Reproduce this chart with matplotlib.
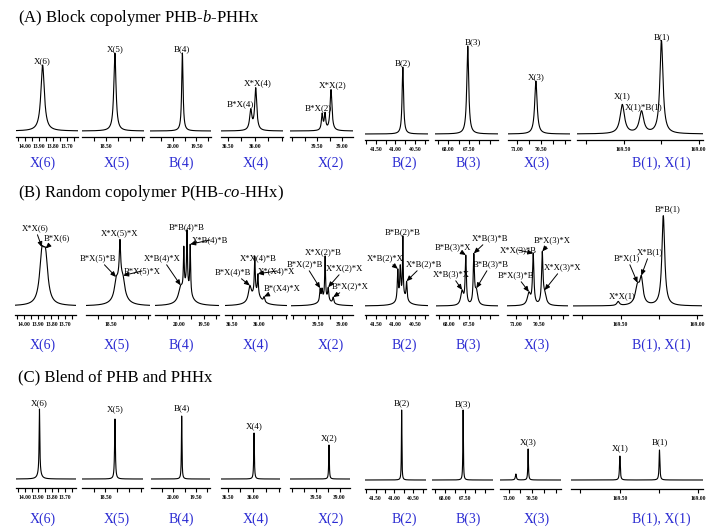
import numpy as np
import matplotlib
matplotlib.use("Agg")
import matplotlib.pyplot as plt

plt.rcParams['font.family'] = 'Liberation Serif'
plt.rcParams['mathtext.fontset'] = 'custom'
plt.rcParams['mathtext.rm'] = 'Liberation Serif'
plt.rcParams['mathtext.it'] = 'Liberation Serif:italic'

W, H = 722, 531

# ------------------------------------------------------------
# data: panels (ppm windows, ticks)
# ------------------------------------------------------------
captions = ['X(6)', 'X(5)', 'B(4)', 'X(4)', 'X(2)', 'B(2)', 'B(3)', 'X(3)', 'B(1), X(1)']
ppm_left = [14.065, 18.70, 20.49, 36.63, 40.04, 41.78, 68.32, 71.18, 169.81]
ppm_right = [13.62, 18.18, 19.19, 35.48, 38.78, 40.165, 66.80, 69.90, 168.97]
ticks = [
    [14.05, 14.00, 13.95, 13.90, 13.85, 13.80, 13.75, 13.70, 13.65],
    [18.60, 18.50, 18.40, 18.30, 18.20],
    [20.25, 20.00, 19.75, 19.50, 19.25],
    [36.50, 36.25, 36.00, 35.75, 35.50],
    [40.00, 39.75, 39.50, 39.25, 39.00],
    [41.75, 41.50, 41.25, 41.00, 40.75, 40.50, 40.25],
    [68.25, 68.00, 67.75, 67.50, 67.25, 67.00],
    [71.00, 70.75, 70.50, 70.25, 70.00],
    [169.75, 169.50, 169.25, 169.00],
]
labelled_ticks = [
    [14.00, 13.90, 13.80, 13.70], [18.50], [20.00, 19.50], [36.50, 36.00],
    [39.50, 39.00], [41.50, 41.00, 40.50], [68.00, 67.50], [71.00, 70.50],
    [169.50, 169.00],
]

# (A) block copolymer PHB-b-PHHx: peak centres (ppm), heights, widths
a_centers = [[13.874], [18.424], [19.80], [36.078, 35.986], [39.397, 39.34, 39.22],
             [40.81], [67.53], [70.604], [169.508, 169.38, 169.247]]
a_heights = [[66], [78], [78], [20, 42], [16, 16, 41], [67], [88], [53], [29, 22, 93]]
a_widths = [[0.03], [0.022], [0.035], [0.05, 0.045], [0.035, 0.035, 0.045],
            [0.045], [0.055], [0.06], [0.035, 0.035, 0.025]]
a_labels = [['X(6)'], ['X(5)'], ['B(4)'], ['B*X(4)', 'X*X(4)'], [None, 'B*X(2)', 'X*X(2)'],
            ['B(2)'], ['B(3)'], ['X(3)'], ['X(1)', 'X(1)*B(1)', 'B(1)']]

# (B) random copolymer P(HB-co-HHx)
b_centers = [[13.869, 13.842], [18.456, 18.424, 18.424, 18.398],
             [19.97, 19.905, 19.84, 19.775, 19.85], [36.17, 36.078, 36.02, 35.905, 36.06],
             [39.448, 39.41, 39.347, 39.284, 39.183, 39.35],
             [40.94, 40.876, 40.81, 40.714, 40.82], [67.68, 67.59, 67.393, 67.33],
             [70.72, 70.63, 70.44, 70.39], [169.516, 169.39, 169.365, 169.222]]
b_heights = [[44, 42], [12, 28, 34, 10], [12, 40, 55, 48, 18], [14, 36, 20, 5, 12],
             [12, 10, 42, 12, 6, 7], [30, 30, 58, 18, 10], [14, 48, 48, 14],
             [12, 50, 50, 10], [4, 18, 24, 90]]
b_widths = [[0.04, 0.04], [0.03, 0.07, 0.012, 0.03], [0.10, 0.02, 0.02, 0.02, 0.2],
            [0.06, 0.02, 0.02, 0.03, 0.22], [0.025, 0.025, 0.02, 0.025, 0.03, 0.25],
            [0.03, 0.03, 0.02, 0.03, 0.25], [0.08, 0.035, 0.035, 0.08],
            [0.08, 0.035, 0.035, 0.08], [0.02, 0.035, 0.025, 0.022]]
# (panel, peak index, label, arrow?)
b_notes = [
    (0, 0, 'X*X(6)', True), (0, 1, 'B*X(6)', True),
    (1, 1, 'X*X(5)*X', False), (1, 0, 'B*X(5)*B', True), (1, 3, 'B*X(5)*X', True),
    (2, 2, 'B*B(4)*B', False), (2, 3, 'X*B(4)*B', True), (2, 0, 'X*B(4)*X', True),
    (3, 1, 'X*X(4)*B', False), (3, 0, 'B*X(4)*B', True), (3, 2, 'X*(X4)*X', True),
    (3, 3, 'B*(X4)*X', True),
    (4, 2, 'X*X(2)*B', False), (4, 0, 'B*X(2)*B', True), (4, 3, 'X*X(2)*X', True),
    (4, 4, 'B*X(2)*X', True),
    (5, 2, 'B*B(2)*B', False), (5, 0, 'X*B(2)*X', True), (5, 3, 'X*B(2)*B', True),
    (6, 1, 'B*B(3)*X', True), (6, 2, 'X*B(3)*B', True), (6, 0, 'X*B(3)*X', True),
    (6, 3, 'B*B(3)*B', True),
    (7, 1, 'X*X(3)*B', True), (7, 2, 'B*X(3)*X', True), (7, 0, 'B*X(3)*B', True),
    (7, 3, 'X*X(3)*X', True),
    (8, 0, 'X*X(1)', False), (8, 1, 'B*X(1)', True), (8, 2, 'X*B(1)', True),
    (8, 3, 'B*B(1)', False),
]

# (C) blend of PHB and PHHx
c_centers = [[13.891, 13.891], [18.419], [19.814], [35.986], [39.221], [40.81],
             [67.545], [70.847, 70.59], [169.499, 169.247]]
c_heights = [[64, 6], [60], [63], [46], [34], [70], [70], [6, 31], [24, 30]]
c_widths = [[0.006, 0.03], [0.008], [0.015], [0.015], [0.015], [0.015], [0.015],
            [0.025, 0.015], [0.006, 0.006]]
c_labels = [['X(6)', None], ['X(5)'], ['B(4)'], ['X(4)'], ['X(2)'], ['B(2)'], ['B(3)'],
            [None, 'X(3)'], ['X(1)', 'B(1)']]

# ------------------------------------------------------------
# layout (pixels)
# ------------------------------------------------------------
row_titles = ['(A) Block copolymer PHB-$\\mathit{b}$-PHHx',
              '(B) Random copolymer P(HB-$\\mathit{co}$-HHx)',
              '(C) Blend of PHB and PHHx']
title_y = [18, 193, 377]
panel_x = [
    [(16, 78), (82, 144), (150, 211), (221, 283), (290, 353), (365, 428), (435, 498), (508, 570), (577, 703)],
    [(15, 76), (86, 150), (155, 219), (225, 287), (291, 353), (365, 428), (436, 498), (507, 568), (573, 702)],
    [(16, 76), (82, 143), (151, 210), (221, 280), (290, 350), (365, 426), (432, 493), (500, 561), (571, 703)],
]
axis_y = [[137] * 5 + [140] * 4, [315] * 9, [488] * 5 + [489] * 4]
row_top = [28, 200, 385]
drop = [6, 9, 9]
caption_x = [43, 117, 181, 256, 331, 404, 468, 537, 661]
caption_y = [163, 345, 519]

a_offsets = [[(0, 0)], [(0, 0)], [(0, 0)], [(-10, 0), (2, 0)], [None, (-7, 0), (2, 0)],
             [(0, 0)], [(5, 0)], [(0, 0)], [(0, 4), (2, -1), (0, -1)]]
b_text_pos = [(35, 228), (57, 238), (120, 233), (98, 258), (142, 271),
              (187, 227), (210, 240), (162, 258),
              (258, 258), (233, 272), (277, 271), (282, 288),
              (323, 252), (305, 264), (345, 268), (350, 286),
              (403, 232), (385, 258), (424, 264),
              (453, 247), (490, 238), (451, 274), (491, 264),
              (518, 250), (552, 240), (516, 275), (563, 267),
              (622, 296), (627, 258), (650, 252), (668, 209)]
c_offsets = [[(0, 2), None], [(0, 6)], [(0, 4)], [(0, 3)], [(0, 3)], [(0, 3)], [(0, 2)],
             [None, (0, 3)], [(0, 4), (0, 4)]]


def spectrum(x, centers, heights, widths):
    y = np.zeros_like(x)
    for c, h, w in zip(centers, heights, widths):
        y += h / (1 + ((x - c) / (w / 2)) ** 2)
    return y


def fig_frac(x, y):
    return x / W, 1 - y / H


fig = plt.figure(figsize=(W / 100, H / 100), dpi=100)

rows = [(a_centers, a_heights, a_widths), (b_centers, b_heights, b_widths),
        (c_centers, c_heights, c_widths)]

all_axes = []
for r, (cen, hei, wid) in enumerate(rows):
    fig.text(*fig_frac(18, title_y[r]), row_titles[r], fontsize=12, ha='left', va='center')
    row_axes = []
    for p in range(9):
        x0, x1 = panel_x[r][p]
        ya = axis_y[r][p]
        ax = fig.add_axes([x0 / W, 1 - ya / H, (x1 - x0) / W, (ya - row_top[r]) / H])
        ax.set_facecolor('none')
        ax.set_xlim(ppm_left[p], ppm_right[p])
        ax.set_ylim(-drop[r], ya - row_top[r] - drop[r])
        xs = np.linspace(ppm_left[p], ppm_right[p], 4000)
        ax.plot(xs, spectrum(xs, cen[p], hei[p], wid[p]), color='black', lw=0.8)

        for s in ['top', 'left', 'right']:
            ax.spines[s].set_visible(False)
        ax.spines['bottom'].set_linewidth(0.9)
        ax.set_yticks([])
        tick_pos = sorted(set(ticks[p]) | set(labelled_ticks[p]))
        ax.set_xticks(tick_pos)
        ax.set_xticklabels(['%.2f' % t if t in labelled_ticks[p] else '' for t in tick_pos],
                           fontsize=4, fontweight='bold')
        ax.tick_params(axis='x', direction='out', length=3, width=0.8, pad=2)

        fig.text(*fig_frac(caption_x[p], caption_y[r]), captions[p], fontsize=10,
                 color='#2a2ad2', ha='center', va='center')
        row_axes.append(ax)
    all_axes.append(row_axes)

# peak labels, rows A and C
for r, labels, offsets in [(0, a_labels, a_offsets), (2, c_labels, c_offsets)]:
    cen, hei, wid = rows[r]
    for p in range(9):
        for k, lab in enumerate(labels[p]):
            if lab is None:
                continue
            c = cen[p][k]
            top = spectrum(np.array([c]), cen[p], hei[p], wid[p])[0]
            all_axes[r][p].annotate(lab, xy=(c, top), xytext=offsets[p][k],
                                    textcoords='offset pixels', ha='center', va='bottom',
                                    fontsize=6.5, annotation_clip=False)

# peak labels with arrows, row B
for (p, k, lab, arrow), pos in zip(b_notes, b_text_pos):
    cen, hei, wid = rows[1]
    c = cen[p][k]
    yv = spectrum(np.array([c]), cen[p], hei[p], wid[p])[0]
    props = None
    if arrow:
        props = dict(arrowstyle='-|>,head_length=0.5,head_width=0.22', color='black',
                     lw=0.7, shrinkA=0, shrinkB=0)
    all_axes[1][p].annotate(lab, xy=(c, yv), xytext=fig_frac(*pos),
                            textcoords='figure fraction', ha='center', va='center',
                            fontsize=6.2, arrowprops=props, annotation_clip=False)

fig.savefig('out.png', dpi=100)
